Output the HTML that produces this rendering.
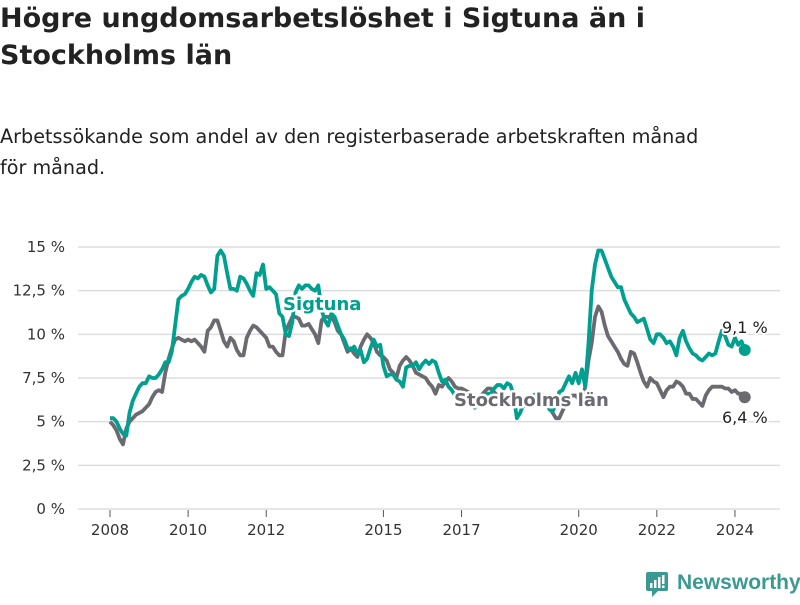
<!DOCTYPE html>
<html><head><meta charset="utf-8"><style>
body{margin:0;background:#fff;width:800px;height:600px;overflow:hidden;font-family:"Liberation Sans","DejaVu Sans",sans-serif;}
svg text{font-family:"DejaVu Sans","Liberation Sans",sans-serif;}
</style></head><body>
<svg id="c" width="800" height="600">
<text x="0" y="27" font-size="27" font-weight="bold" fill="#222">Högre ungdomsarbetslöshet i Sigtuna än i</text>
<text x="0" y="64" font-size="27" font-weight="bold" fill="#222">Stockholms län</text>
<text x="0" y="143" font-size="19.2" fill="#222">Arbetssökande som andel av den registerbaserade arbetskraften månad</text>
<text x="0" y="174" font-size="19.2" fill="#222">för månad.</text>
<g id="grid"></g><g id="xaxis"></g><g id="lines"></g><g id="labels"></g>
<g>
<rect x="646" y="572" width="22" height="19" rx="2" fill="#3a9a92"/>
<path d="M652 591 L652 597 L658 591 Z" fill="#3a9a92"/>
<rect x="650" y="583" width="2.5" height="5" fill="#fff"/><rect x="654" y="580" width="2.5" height="8" fill="#fff"/><rect x="658" y="577" width="2.5" height="11" fill="#fff"/><rect x="662" y="575" width="2.5" height="9" fill="#fff"/><rect x="662" y="585.5" width="2.5" height="2.5" fill="#fff"/>
<text x="677" y="589" font-size="21" font-weight="bold" fill="#3a9a92" style="font-family:'Liberation Sans',sans-serif">Newsworthy</text>
</g>
</svg>
<script>
const yTicks=[0,2.5,5,7.5,10,12.5,15];
const yTickLabels=["0 %","2,5 %","5 %","7,5 %","10 %","12,5 %","15 %"];
const xTicks=[2008,2010,2012,2015,2017,2020,2022,2024];
const startYear=2008;
const sigtuna=[5.2,5.2,5.0,4.6,4.3,4.2,5.5,6.2,6.6,7.0,7.2,7.2,
7.6,7.5,7.5,7.7,8.0,8.4,8.4,9.0,10.5,12.0,12.2,12.3,
12.6,13.0,13.3,13.2,13.4,13.3,12.8,12.4,12.6,14.5,14.8,14.5,
13.5,12.6,12.6,12.5,13.3,13.2,12.9,12.5,12.2,13.5,13.4,14.0,
12.6,12.7,12.5,12.3,11.2,11.0,10.0,9.9,10.7,12.4,12.8,12.6,
12.8,12.8,12.6,12.5,12.8,11.4,10.8,10.5,11.2,11.0,10.5,10.0,
9.7,9.2,9.1,9.3,8.9,9.1,8.4,8.6,9.2,9.7,9.3,9.4,
8.2,7.6,7.7,7.7,7.4,7.3,7.0,8.1,8.2,8.2,8.4,8.0,
8.3,8.5,8.3,8.5,8.4,7.8,7.3,7.4,7.0,6.8,6.5,6.1,
6.2,6.3,6.0,6.0,5.8,6.0,6.4,6.5,6.6,6.6,6.9,7.1,
7.1,6.9,7.2,7.1,6.5,5.2,5.5,6.0,6.3,6.4,6.5,6.6,
6.7,6.5,6.4,5.7,5.6,6.0,6.7,6.8,7.2,7.6,7.2,7.8,
7.2,8.0,7.0,9.5,12.5,14.0,14.8,14.8,14.3,13.8,13.3,13.0,
12.7,12.7,12.0,11.6,11.2,11.0,10.7,10.8,10.9,10.3,9.7,9.5,
10.0,10.0,9.8,9.5,9.6,9.3,8.8,9.8,10.2,9.6,9.2,8.9,
8.8,8.6,8.5,8.7,8.9,8.8,8.9,9.6,10.2,9.9,9.4,9.3,
9.8,9.4,9.6,9.1];
const stockholm=[5.0,4.8,4.5,4.0,3.7,4.6,5.0,5.2,5.4,5.5,5.6,5.8,
6.0,6.4,6.7,6.8,6.7,7.8,8.6,9.2,9.7,9.8,9.7,9.6,
9.7,9.6,9.7,9.5,9.3,9.0,10.2,10.4,10.8,10.8,10.2,9.6,
9.3,9.8,9.6,9.1,8.8,8.8,9.8,10.2,10.5,10.4,10.2,10.0,
9.8,9.3,9.3,9.0,8.8,8.8,10.2,10.6,11.0,11.0,10.9,10.5,
10.5,10.6,10.3,10.0,9.5,10.8,11.0,11.0,11.0,10.7,10.2,10.0,
9.5,9.0,9.2,8.9,8.7,9.3,9.7,10.0,9.8,9.5,9.0,8.8,
8.7,8.5,8.0,7.8,7.5,8.2,8.5,8.7,8.5,8.2,7.8,7.7,
7.6,7.5,7.2,7.0,6.6,7.1,7.0,7.3,7.5,7.3,7.0,6.9,
6.9,6.8,6.7,6.6,6.5,6.4,6.5,6.7,6.9,6.9,6.7,6.5,
6.6,6.4,6.3,6.3,6.2,6.2,6.0,5.9,5.9,6.0,6.2,6.3,
6.3,6.2,6.0,5.8,5.5,5.2,5.2,5.6,6.0,6.3,6.5,6.5,
6.3,6.0,7.0,8.5,9.5,11.0,11.6,11.3,10.5,9.9,9.6,9.3,
9.0,8.6,8.3,8.2,9.0,8.9,8.4,7.8,7.3,7.0,7.5,7.3,
7.2,6.8,6.4,6.8,7.0,7.0,7.3,7.2,7.0,6.6,6.6,6.3,
6.3,6.1,5.9,6.5,6.8,7.0,7.0,7.0,7.0,6.9,6.9,6.7,
6.8,6.6,6.6,6.4];
const NS="http://www.w3.org/2000/svg";
function x(t){return 110+(t-2008)*39.06;}
function y(v){return 509-v*(262/15);}
function mk(tag,attrs,parent){const e=document.createElementNS(NS,tag);for(const k in attrs)e.setAttribute(k,attrs[k]);document.getElementById(parent).appendChild(e);return e;}
yTicks.forEach((v,i)=>{
 const l=mk('line',{x1:78,x2:780,y1:y(v),y2:y(v),stroke:'#dddddd','stroke-width':1.5},'grid');
 
 
 const t=mk('text',{x:65,y:y(v)+5,'text-anchor':'end','font-size':15,fill:'#333'},'grid');
 t.textContent=yTickLabels[i];
 
 
});
xTicks.forEach(v=>{
 const l=mk('line',{x1:x(v),x2:x(v),y1:510,y2:517,stroke:'#555','stroke-width':1},'xaxis');
 
 
 const t=mk('text',{x:x(v),y:535,'text-anchor':'middle','font-size':15,fill:'#333'},'xaxis');
 t.textContent=v;
 
 
});
function line(arr,color,name){
 const d=arr.map((v,i)=>(i?'L':'M')+x(startYear+i/12).toFixed(1)+' '+y(v).toFixed(1)).join(' ');
 const p=mk('path',{d:d,fill:'none',stroke:color,'stroke-width':3.8,'stroke-linejoin':'round'},'lines');
 
 
 const n=arr.length-1;
 const c=mk('circle',{cx:x(startYear+n/12),cy:y(arr[n]),r:6,fill:color},'lines');
 
 
}
line(stockholm,'#6b6a70','stockholm');
line(sigtuna,'#00a090','sigtuna');
function lab(tx,xx,yy,col,bold,name,anchor){
 const t=mk('text',{x:xx,y:yy,'font-size':bold?18:16,'font-weight':bold?'bold':'normal',fill:col,stroke:'#fff','stroke-width':bold?5:4,'paint-order':'stroke','stroke-linejoin':'round','text-anchor':anchor||'start'},'labels');
 t.textContent=tx;
 
 
}
lab('Sigtuna',283,310,'#00a090',true,'sigtuna-label');
lab('Stockholms län',454,406,'#6b6a70',true,'stockholm-label');
lab('9,1 %',722,333,'#222',false,'sigtuna-value-label');
lab('6,4 %',722,423,'#222',false,'stockholm-value-label');
</script>
</body></html>
